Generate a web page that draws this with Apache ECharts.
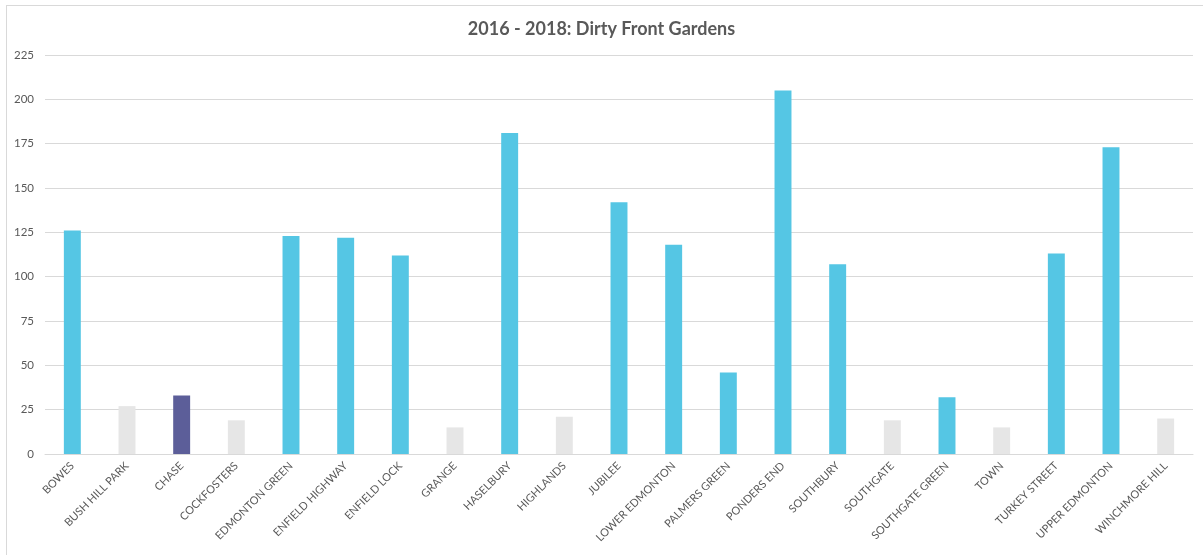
<!DOCTYPE html>
<html>
<head>
<meta charset="utf-8">
<script src="https://cdn.jsdelivr.net/npm/echarts@6/dist/echarts.min.js"></script>
<style>
  html, body { margin: 0; padding: 0; background: #fff; }
  #frame { position: absolute; left: 6px; top: 5px; width: 1203px; height: 560px; border-left: 1px solid #d9d9d9; border-top: 1px solid #d9d9d9; box-sizing: border-box; }
  #chart { position: absolute; left: 0; top: 0; width: 1203px; height: 555px; }
</style>
</head>
<body>
<div id="frame"></div>
<div id="chart"></div>
<script>
const categories = ['BOWES','BUSH HILL PARK','CHASE','COCKFOSTERS','EDMONTON GREEN','ENFIELD HIGHWAY','ENFIELD LOCK','GRANGE','HASELBURY','HIGHLANDS','JUBILEE','LOWER EDMONTON','PALMERS GREEN','PONDERS END','SOUTHBURY','SOUTHGATE','SOUTHGATE GREEN','TOWN','TURKEY STREET','UPPER EDMONTON','WINCHMORE HILL'];
const values = [126, 27, 33, 19, 123, 122, 112, 15, 181, 21, 142, 118, 46, 205, 107, 19, 32, 15, 113, 173, 20];
const greyWards = ['BUSH HILL PARK','COCKFOSTERS','GRANGE','HIGHLANDS','SOUTHGATE','TOWN','WINCHMORE HILL'];
const highlightWard = 'CHASE';
const yTicks = [0, 25, 50, 75, 100, 125, 150, 175, 200, 225];

const COLORS = { main: '#55C6E4', grey: '#E6E6E6', highlight: '#5C5E99' };

const seriesData = categories.map((c, i) => ({
  value: values[i],
  itemStyle: { color: c === highlightWard ? COLORS.highlight : (greyWards.includes(c) ? COLORS.grey : COLORS.main) }
}));

const chart = echarts.init(document.getElementById('chart'), null, { renderer: 'canvas' });
chart.setOption({
  animation: false,
  title: {
    text: '2016 - 2018: Dirty Front Gardens',
    left: 'center',
    top: 15,
    textStyle: { fontFamily: 'Lato', fontWeight: 'bold', fontSize: 18, color: '#595959' }
  },
  grid: { left: 45, right: 10, top: 55, bottom: 101, containLabel: false },
  xAxis: {
    type: 'category',
    data: categories,
    axisLine: { lineStyle: { color: '#d9d9d9', width: 1 } },
    axisTick: { show: false },
    axisLabel: { interval: 0, rotate: 45, fontFamily: 'Lato', fontSize: 11, color: '#595959', margin: 10 }
  },
  yAxis: {
    type: 'value',
    min: yTicks[0],
    max: yTicks[yTicks.length - 1],
    interval: 25,
    axisLine: { show: false },
    axisTick: { show: false },
    splitLine: { lineStyle: { color: '#d9d9d9', width: 1 } },
    axisLabel: { fontFamily: 'Lato', fontSize: 11.5, color: '#595959', margin: 11 }
  },
  series: [{
    type: 'bar',
    data: seriesData,
    barWidth: '31%'
  }]
});
</script>
</body>
</html>
